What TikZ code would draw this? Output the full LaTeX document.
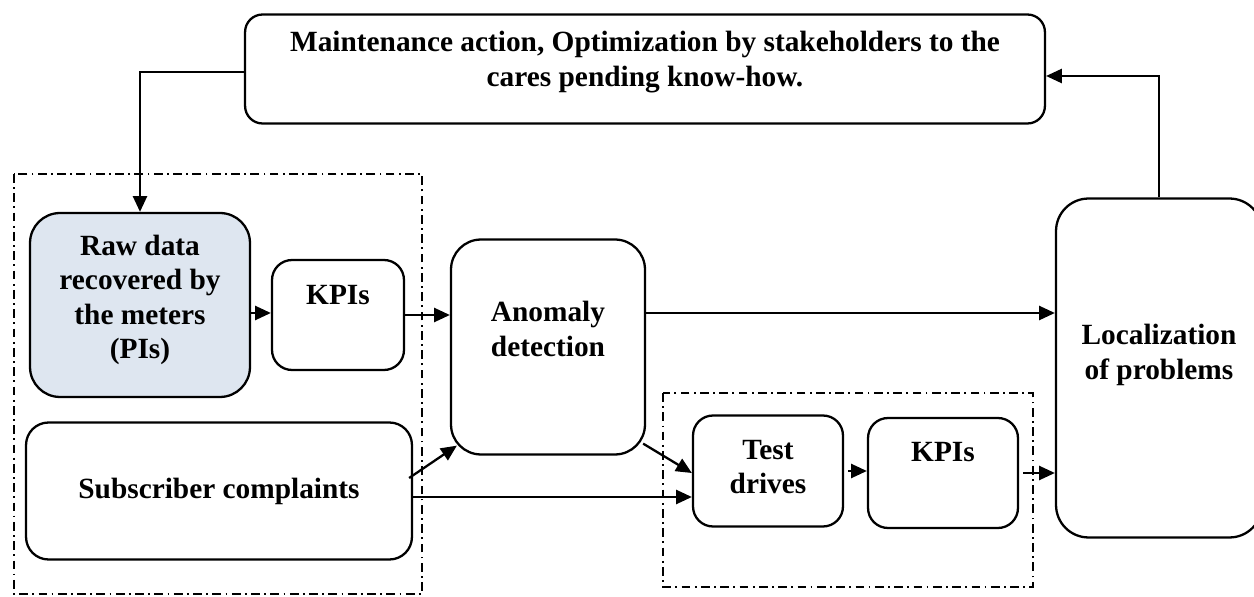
\documentclass[tikz,border=0pt]{standalone}
\usepackage{fontspec}
\setmainfont{Liberation Serif}
\usetikzlibrary{arrows.meta}
\definecolor{rawblue}{HTML}{DEE6F0}

\begin{document}
\begin{tikzpicture}[x=0.02cm, y=-0.02cm,
  box/.style={draw, line width=1.3pt, rounded corners=#1, inner sep=0pt},
  box/.default=0.35cm,
  txt/.style={font=\fontsize{16.7}{19.5}\selectfont\bfseries, align=center},
  arr/.style={-{Triangle[length=9pt,width=8pt]}, line width=1.3pt},
  group/.style={draw, line width=0.75pt, dash pattern=on 5pt off 2.5pt on 1pt off 2.5pt}]
  \useasboundingbox (0,0) rectangle (1254,597);
  % dash-dot groups
  \draw[group] (14,174) rectangle (422,594);
  \draw[group] (663,393) rectangle (1033,587);
  % boxes
  \node[box, minimum width=16cm, minimum height=2.18cm] (top) at (645,69) {};
  \node[txt] (toptext) at (645,62) {Maintenance action, Optimization by stakeholders to the\\cares pending know-how.};
  \node[box=0.6cm, fill=rawblue, minimum width=4.4cm, minimum height=3.68cm] (raw) at (140,305) {};
  \node[txt] (rawtext) at (140,300) {Raw data\\recovered by\\the meters\\(PIs)};
  \node[box=0.4cm, minimum width=2.64cm, minimum height=2.2cm] (kpiA) at (338,315) {};
  \node[txt] (kpiAtext) at (338,295) {KPIs};
  \node[box=0.45cm, minimum width=7.72cm, minimum height=2.74cm] (subs) at (219,491) {};
  \node[txt] (substext) at (219,491) {Subscriber complaints};
  \node[box=0.6cm, minimum width=3.88cm, minimum height=4.3cm] (anom) at (548,347) {};
  \node[txt] (anomtext) at (548,329) {Anomaly\\detection};
  \node[box=0.4cm, minimum width=3cm, minimum height=2.22cm] (test) at (768,471) {};
  \node[txt] (testtext) at (768,467) {Test\\drives};
  \node[box=0.4cm, minimum width=3cm, minimum height=2.2cm] (kpiB) at (943,473) {};
  \node[txt] (kpiBtext) at (943,452) {KPIs};
  \node[box=0.65cm, minimum width=4.12cm, minimum height=6.78cm] (loc) at (1159,368) {};
  \node[txt] (loctext) at (1159,355) {Localization\\of problems};
  % connectors
  \draw[arr] ([yshift=-0.06cm]top.west) -| (raw.north);
  \draw[arr] (loc.north) |- ([yshift=-0.14cm]top.east);
  \draw[arr] ([yshift=-0.16cm]raw.east) -- ([yshift=-0.16cm]raw.east -| kpiA.west);
  \draw[arr] (kpiA.east) -- (kpiA.east -| anom.west);
  \draw[arr] ([yshift=0.68cm]anom.east) -- ([yshift=0.68cm]anom.east -| loc.west);
  \draw[arr] ([shift={(-0.08cm,0.26cm)}]subs.east) -- ([shift={(0.14cm,0.2cm)}]anom.south west);
  \draw[arr] ([yshift=-0.12cm]subs.east) -- ([yshift=-0.12cm]subs.east -| test.west);
  \draw[arr] ([shift={(-0.06cm,0.24cm)}]anom.south east) -- ([yshift=-0.04cm]test.west);
  \draw[arr] ([xshift=0.08cm]test.east) -- (test.east -| kpiB.west);
  \draw[arr] ([xshift=0.08cm]kpiB.east) -- (kpiB.east -| loc.west);
\end{tikzpicture}
\end{document}
